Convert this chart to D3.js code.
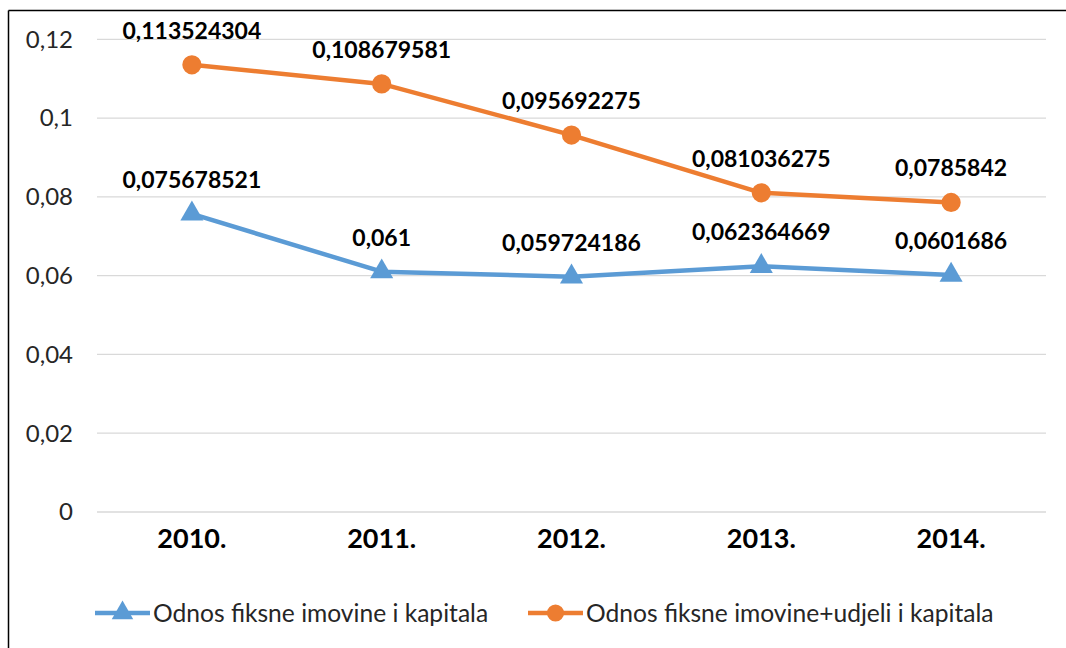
<!DOCTYPE html>
<style>
  body { margin: 0; background: #fff; }
  svg text { font-family: Lato, "Open Sans", sans-serif; fill: #000; }
  .grid line { stroke: #d9d9d9; stroke-width: 1.3; }
  .ytick { font-size: 24px; fill: #262626; }
  .xtick { font-size: 27px; font-weight: bold; }
  .lbl { font-size: 23px; font-weight: bold; }
  .leg { font-size: 24.6px; fill: #262626; }
</style>
<body>
<svg id="chart" width="1066" height="648"></svg>
</body>
<script src="https://cdnjs.cloudflare.com/ajax/libs/d3/7.8.5/d3.min.js"></script>
<script>
  const years = ['2010.', '2011.', '2012.', '2013.', '2014.']
  const fiksna = [0.075678521, 0.061, 0.059724186, 0.062364669, 0.0601686]
  const fiksnaUdjeli = [0.113524304, 0.108679581, 0.095692275, 0.081036275, 0.0785842]
  const fiksnaLabels = ['0,075678521', '0,061', '0,059724186', '0,062364669', '0,0601686']
  const udjeliLabels = ['0,113524304', '0,108679581', '0,095692275', '0,081036275', '0,0785842']
  const yTicks = [0, 0.02, 0.04, 0.06, 0.08, 0.1, 0.12]
  const yTickLabels = ['0', '0,02', '0,04', '0,06', '0,08', '0,1', '0,12']

  const blue = '#5b9bd5', orange = '#ed7d31'
  const svg = d3.select('#chart')

  // frame (left + top edges visible)
  svg.append('line').attr('x1', 8.5).attr('x2', 8.5).attr('y1', 10.5).attr('y2', 648)
    .attr('stroke', '#000').attr('stroke-width', 1.5)
  svg.append('line').attr('x1', 8.5).attr('x2', 1066).attr('y1', 10.5).attr('y2', 10.5)
    .attr('stroke', '#000').attr('stroke-width', 1.5)

  const x = d3.scaleBand().domain(years).range([97, 1046])
  const y = d3.scaleLinear().domain([0, 0.12]).range([512, 39.3])
  const cx = d => x(d) + x.bandwidth() / 2

  svg.append('g').attr('class', 'grid')
    .selectAll('line').data(yTicks).join('line')
      .attr('x1', 97).attr('x2', 1046)
      .attr('y1', d => y(d)).attr('y2', d => y(d))

  svg.selectAll('.ytick').data(yTicks).join('text')
      .attr('class', 'ytick')
      .attr('x', 73).attr('y', d => y(d)).attr('dy', '.35em')
      .attr('text-anchor', 'end')
      .text((d, i) => yTickLabels[i])

  svg.selectAll('.xtick').data(years).join('text')
      .attr('class', 'xtick')
      .attr('x', cx).attr('y', 548)
      .attr('text-anchor', 'middle')
      .text(d => d)

  const line = d3.line().x((d, i) => cx(years[i])).y(d => y(d))

  const series = [
    { vals: fiksna, labels: fiksnaLabels, color: blue, sym: d3.symbolTriangle, size: 230 },
    { vals: fiksnaUdjeli, labels: udjeliLabels, color: orange, sym: d3.symbolCircle, size: 290 }
  ]

  series.forEach(s => {
    svg.append('path').datum(s.vals)
      .attr('d', line).attr('fill', 'none')
      .attr('stroke', s.color).attr('stroke-width', 4.5).attr('stroke-linejoin', 'round')
    svg.append('g').selectAll('path').data(s.vals).join('path')
      .attr('transform', (d, i) => `translate(${cx(years[i])},${y(d)})`)
      .attr('d', d3.symbol().type(s.sym).size(s.size))
      .attr('fill', s.color)
    svg.append('g').selectAll('text').data(s.vals).join('text')
      .attr('class', 'lbl')
      .attr('x', (d, i) => cx(years[i])).attr('y', d => y(d) - 34).attr('dy', '.35em')
      .attr('text-anchor', 'middle')
      .text((d, i) => s.labels[i])
  })

  // legend
  const legend = [
    { name: 'Odnos fiksne imovine i kapitala', color: blue, sym: d3.symbolTriangle, size: 200, x: 95 },
    { name: 'Odnos fiksne imovine+udjeli i kapitala', color: orange, sym: d3.symbolCircle, size: 230, x: 528 }
  ]
  const lg = svg.append('g').selectAll('g').data(legend).join('g')
    .attr('transform', d => `translate(${d.x},613)`)
  lg.append('line').attr('x1', 0).attr('x2', 55)
    .attr('stroke', d => d.color).attr('stroke-width', 4.5)
  lg.append('path').attr('transform', 'translate(27.5,0)')
    .attr('d', d => d3.symbol().type(d.sym).size(d.size)())
    .attr('fill', d => d.color)
  lg.append('text').attr('class', 'leg')
    .attr('x', 58).attr('dy', '.35em')
    .text(d => d.name)
</script>
